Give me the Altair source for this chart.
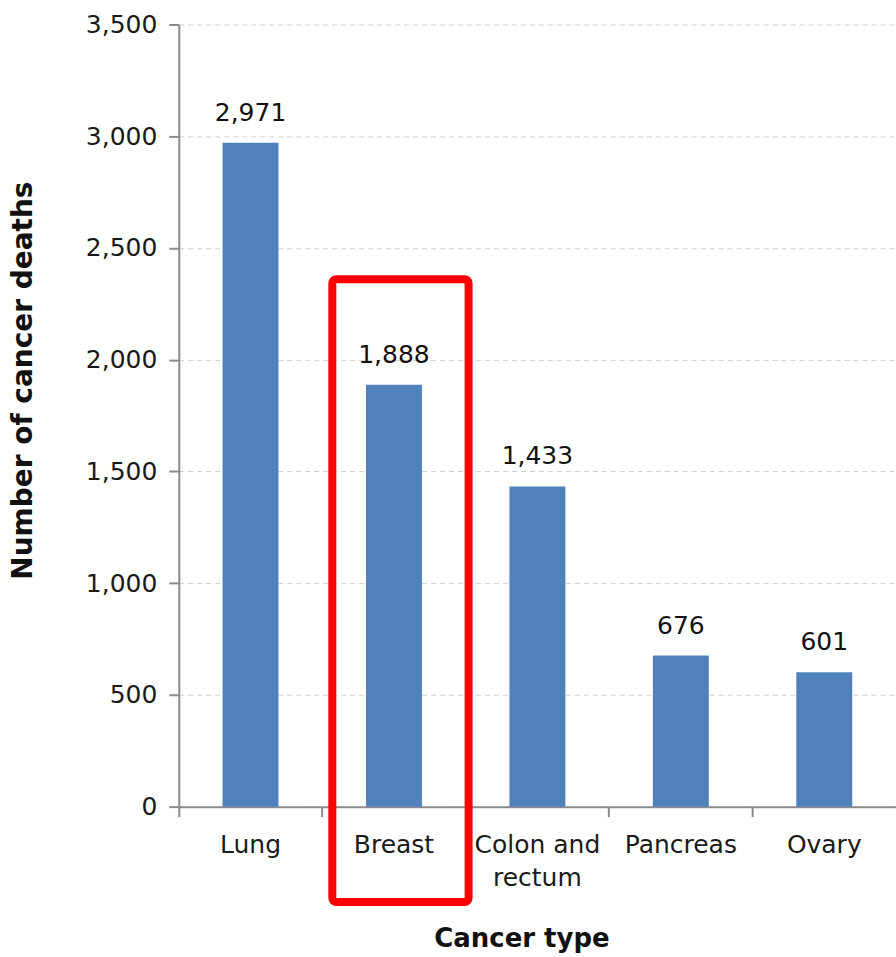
import altair as alt
import pandas as pd

categories = ["Lung", "Breast", "Colon and rectum", "Pancreas", "Ovary"]
deaths = [2971, 1888, 1433, 676, 601]
y_ticks = [0, 500, 1000, 1500, 2000, 2500, 3000, 3500]

# highlight box annotation (data units)
box_category = ["Breast"]
box_top = [2360]
box_bottom = [-427]

df = pd.DataFrame({"category": categories, "deaths": deaths})
box = pd.DataFrame({"category": box_category, "top": box_top, "bottom": box_bottom})

FONT = "DejaVu Sans"

x_enc = alt.X(
    "category:N",
    sort=categories,
    scale=alt.Scale(paddingInner=0, paddingOuter=0),
    axis=alt.Axis(
        title="Cancer type",
        labelAngle=0,
        labelExpr="datum.label == 'Colon and rectum' ? ['Colon and', 'rectum'] : datum.label",
        labelLineHeight=33,
        labelBaseline="top",
        labelPadding=16,
        bandPosition=0,
        tickSize=10,
        grid=False,
        titleX=343,
        titleY=140,
        titleAlign="center",
        titleBaseline="alphabetic",
        titleFontSize=26,
    ),
)

y_scale = alt.Scale(domain=[0, 3500], nice=False, zero=True)

bars = alt.Chart(df).mark_bar(color="#4F81BD", width={"band": 0.39}).encode(
    x=x_enc,
    y=alt.Y(
        "deaths:Q",
        scale=y_scale,
        axis=alt.Axis(
            title="Number of cancer deaths",
            values=y_ticks,
            format=",d",
            tickSize=10,
            labelPadding=12,
            grid=True,
            gridColor="#d0d0d0",
            gridDash=[5, 4],
            gridWidth=1,
            titleX=-155,
            titleY=356,
            titleAngle=-90,
            titleAlign="center",
            titleBaseline="middle",
            titleFontSize=28,
        ),
    ),
)

labels = alt.Chart(df).mark_text(
    font=FONT, fontSize=25, color="#111111", baseline="alphabetic", dy=-22
).encode(
    x=alt.X("category:N", sort=categories),
    y=alt.Y("deaths:Q", scale=y_scale),
    text=alt.Text("deaths:Q", format=",d"),
)

rect = alt.Chart(box).mark_bar(
    fill="transparent",
    stroke="#FF0000",
    strokeWidth=8,
    cornerRadius=4,
    width={"band": 0.95},
    xOffset=6.5,
    clip=False,
).encode(
    x=alt.X("category:N", sort=categories),
    y=alt.Y("top:Q", scale=y_scale),
    y2="bottom:Q",
)

chart = (
    alt.layer(bars, labels, rect)
    .properties(
        width=718,
        height=783,
        autosize=alt.AutoSizeParams(type="none"),
        padding={"left": 179, "top": 24, "right": 0, "bottom": 150},
    )
    .configure_view(stroke=None)
    .configure_axis(
        labelFont=FONT,
        labelFontSize=25,
        labelColor="#1a1a1a",
        titleFont=FONT,
        titleFontWeight="bold",
        titleColor="#111111",
        domainColor="#8a8a8a",
        domainWidth=2,
        tickColor="#8a8a8a",
        tickWidth=2,
    )
)

chart.save("out.html", embed_options={"renderer": "svg", "actions": False})
